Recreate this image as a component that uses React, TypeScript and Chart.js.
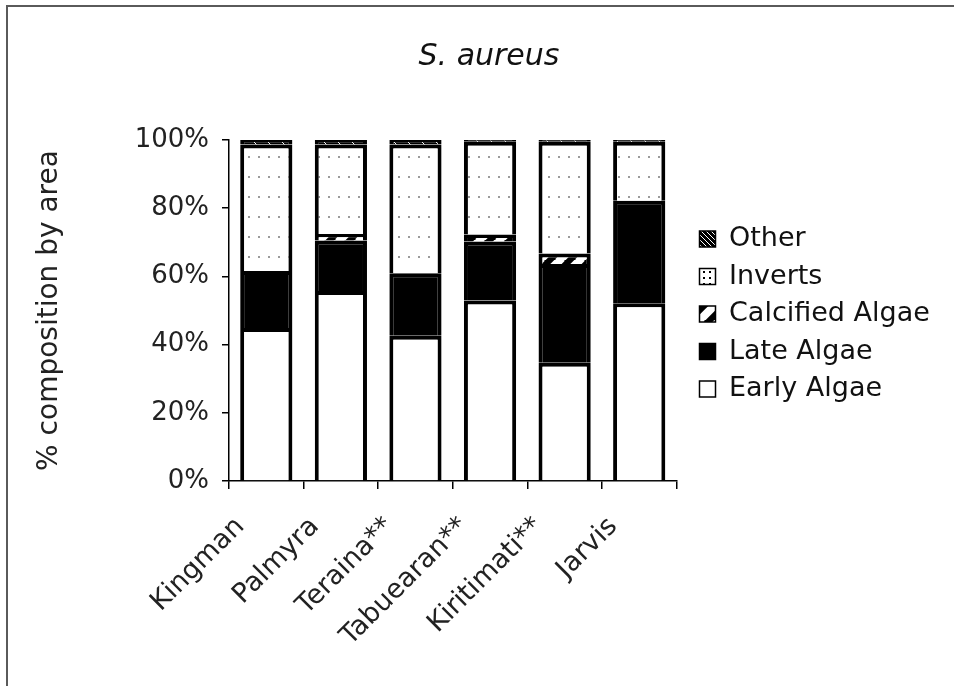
import React, { useEffect, useRef } from 'react';
import { Chart, registerables } from 'chart.js';

Chart.register(...registerables);

const categories = ['Kingman', 'Palmyra', 'Teraina**', 'Tabuearan**', 'Kiritimati**', 'Jarvis'];
const earlyAlgae = [44.9, 55.7, 42.6, 52.9, 34.7, 52.1];
const lateAlgae = [16.7, 14.8, 18.3, 17.3, 28.9, 30.1];
const calcifiedAlgae = [0, 1.9, 0, 2.1, 3.1, 0];
const inverts = [37.1, 26.3, 37.8, 27.2, 32.8, 17.3];
const other = [1.3, 1.3, 1.3, 0.5, 0.5, 0.5];
const seriesNames = ['Early Algae', 'Late Algae', 'Calcified Algae', 'Inverts', 'Other'];
const yTickStep = 20;
const chartTitle = 'S. aureus';
const yTitle = '% composition by area';

const FONT = "'DejaVu Sans', Verdana, sans-serif";
const LEGEND_LEFT = 689;
const LEGEND_SHIFT_Y = -29;
const TITLE_SHIFT = 32;

function makePattern(w: number, h: number, draw: (g: CanvasRenderingContext2D) => void) {
  const c = document.createElement('canvas');
  c.width = w;
  c.height = h;
  const g = c.getContext('2d')!;
  draw(g);
  return g.createPattern(c, 'repeat')!;
}

function hatch(size: number) {
  return makePattern(size, size, (g) => {
    g.fillStyle = '#000';
    g.fillRect(0, 0, size, size);
    g.strokeStyle = '#fff';
    g.lineWidth = 1;
    for (const o of [-size, 0, size]) {
      g.beginPath();
      g.moveTo(o - 1, -1);
      g.lineTo(o + size + 1, size + 1);
      g.stroke();
    }
  });
}

export default function App() {
  const ref = useRef<HTMLCanvasElement | null>(null);

  useEffect(() => {
    if (!ref.current) return;
    const invertsPattern = makePattern(10, 20, (g) => {
      g.fillStyle = '#fff';
      g.fillRect(0, 0, 10, 20);
      g.fillStyle = '#9a9a9a';
      g.fillRect(8, 16, 2, 2);
    });
    const invertsLegendPattern = makePattern(6, 6, (g) => {
      g.fillStyle = '#fff';
      g.fillRect(0, 0, 6, 6);
      g.fillStyle = '#000';
      g.fillRect(1, 1, 2, 2);
    });
    const calcPattern = makePattern(20, 20, (g) => {
      g.fillStyle = '#000';
      g.fillRect(0, 0, 20, 20);
      g.strokeStyle = '#fff';
      g.lineWidth = 8;
      for (const o of [-20, 0, 20]) {
        g.beginPath();
        g.moveTo(o - 2, 22);
        g.lineTo(o + 22, -2);
        g.stroke();
      }
    });
    const otherPattern = hatch(14);
    const otherLegendPattern = hatch(5);

    const values = [earlyAlgae, lateAlgae, calcifiedAlgae, inverts, other];
    const fills: any[] = ['#ffffff', '#000000', calcPattern, invertsPattern, otherPattern];

    const shiftPlugin = {
      id: 'shiftBoxes',
      afterLayout(chart: any) {
        const lg = chart.legend;
        if (lg) {
          lg.left = LEGEND_LEFT;
          lg.right = chart.width;
          lg.top += LEGEND_SHIFT_Y;
          lg.bottom += LEGEND_SHIFT_Y;
        }
        if (chart.titleBlock) {
          chart.titleBlock.left += TITLE_SHIFT;
          chart.titleBlock.right += TITLE_SHIFT;
        }
      },
    };

    const chart = new Chart(ref.current, {
      type: 'bar',
      data: {
        labels: categories,
        datasets: seriesNames.map((name, i) => ({
          label: name,
          data: values[i],
          backgroundColor: fills[i],
          borderColor: '#000',
          borderWidth: 4,
          borderSkipped: 'start',
          barPercentage: 0.7,
          categoryPercentage: 1,
        })),
      },
      options: {
        animation: false,
        responsive: false,
        events: [],
        layout: { padding: { left: 18, top: 8, right: 58, bottom: 8 } },
        scales: {
          x: {
            stacked: true,
            grid: { offset: true, drawOnChartArea: false, tickLength: 8, color: '#000', lineWidth: 1.5 },
            border: { color: '#000', width: 1.5 },
            ticks: {
              autoSkip: false,
              minRotation: 45,
              maxRotation: 45,
              labelOffset: -26,
              padding: 22,
              color: '#222',
              font: { family: FONT, size: 27 },
            },
            afterFit: (s: any) => {
              s.height = 197;
            },
          },
          y: {
            stacked: true,
            min: 0,
            max: 100,
            ticks: {
              stepSize: yTickStep,
              callback: (v: any) => v + '%',
              color: '#222',
              padding: 13,
              font: { family: FONT, size: 26 },
            },
            grid: { drawOnChartArea: false, tickLength: 7, color: '#000', lineWidth: 1.5 },
            border: { color: '#000', width: 1.5 },
            title: {
              display: true,
              text: yTitle,
              color: '#222',
              font: { family: FONT, size: 28 },
              padding: { top: 15, bottom: 0 },
            },
            afterFit: (s: any) => {
              s.width = 229 - 18;
            },
          },
        },
        plugins: {
          title: {
            display: true,
            text: chartTitle,
            color: '#111',
            font: { family: FONT, size: 30, style: 'italic', weight: 'normal' },
            padding: { top: 31, bottom: 65 },
          },
          legend: {
            position: 'right',
            reverse: true,
            labels: {
              boxWidth: 16,
              boxHeight: 16,
              padding: 10.5,
              color: '#111',
              font: { family: FONT, size: 27 },
              generateLabels: (chart: any) => {
                const items = Chart.defaults.plugins.legend.labels.generateLabels(chart);
                return items.map((it: any) => ({
                  ...it,
                  fillStyle:
                    it.text === 'Inverts' ? invertsLegendPattern : it.text === 'Other' ? otherLegendPattern : it.fillStyle,
                  lineWidth: 1.5,
                  strokeStyle: '#000',
                }));
              },
            },
          },
          tooltip: { enabled: false },
        },
      } as any,
      plugins: [shiftPlugin],
    });
    return () => chart.destroy();
  }, []);

  return (
    <div style={{ position: 'absolute', left: 0, top: 0, width: 954, height: 686, overflow: 'hidden', background: '#fff' }}>
      <div
        style={{
          position: 'absolute',
          left: 6,
          top: 5,
          width: 948,
          height: 681,
          borderLeft: '2px solid #5a5a5a',
          borderTop: '2px solid #5a5a5a',
          boxSizing: 'border-box',
        }}
      />
      <canvas ref={ref} width={954} height={686} style={{ position: 'absolute', left: 0, top: 0, display: 'block' }} />
    </div>
  );
}
